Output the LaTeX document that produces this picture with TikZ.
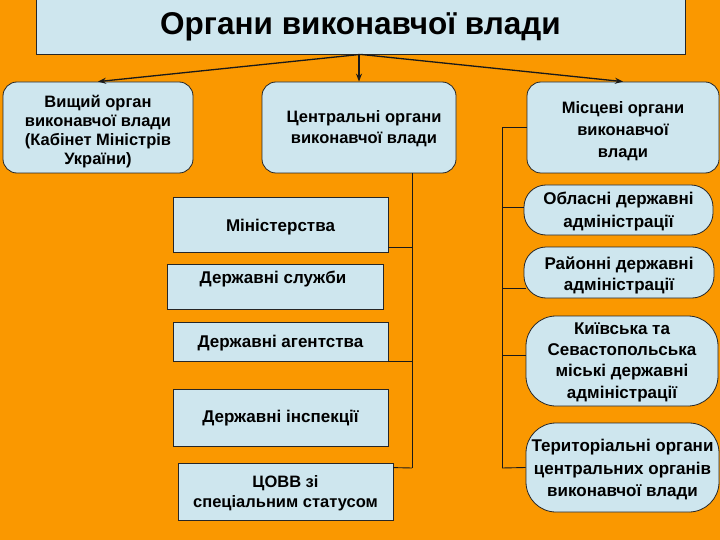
\documentclass[tikz,border=0pt]{standalone}
\usepackage{fontspec}
\setmainfont{Liberation Sans}
\usetikzlibrary{arrows.meta}
\definecolor{bgor}{RGB}{250,152,0}
\definecolor{boxbl}{RGB}{206,230,238}
\begin{document}
\begin{tikzpicture}[x=1pt,y=-1pt,
  sqbox/.style={draw=black!85, fill=boxbl, line width=0.8pt, inner sep=0pt},
  rbox/.style={sqbox, rounded corners=14pt},
  obox/.style={sqbox, rounded corners=22pt},
  txt/.style={font=\bfseries\fontsize{17}{20}\selectfont, align=center, inner sep=0pt, text=black},
  conn/.style={line width=0.9pt, draw=black!90},
  arr/.style={conn, line width=1.3pt, -{Stealth[length=8pt,width=6pt]}}]
\fill[bgor] (0,0) rectangle (720,540);
\useasboundingbox (0,0) rectangle (720,540);
% title
\node[sqbox, minimum width=649pt, minimum height=55pt] (title) at (360.5,26.5) {};
\node[txt, font=\bfseries\fontsize{31.5}{36}\selectfont] (titlet) at (title.center) {Органи виконавчої влади};
% top row
\node[rbox, minimum width=190pt, minimum height=91pt] (lb) at (98,127.5) {};
\node[txt, font=\bfseries\fontsize{16.5}{19}\selectfont] (lbt) at (98,132) {Вищий орган\\виконавчої влади\\(Кабінет Міністрів\\України)};
\node[rbox, minimum width=194pt, minimum height=91pt] (cb) at (359,127.5) {};
\node[txt, font=\bfseries\fontsize{16.5}{21}\selectfont] (cbt) at (364,129) {Центральні органи\\виконавчої влади};
\node[rbox, minimum width=192pt, minimum height=91pt] (rb) at (623,127.5) {};
\node[txt, font=\bfseries\fontsize{16.5}{22}\selectfont] (rbt) at (623,131) {Місцеві органи\\виконавчої\\влади};
% arrows
\draw[arr] (title.south) -- (lb.north);
\draw[arr] (cb.north |- title.south) -- (cb.north);
\draw[arr] (title.south) -- (rb.north);
% left column
\node[sqbox, minimum width=215pt, minimum height=55pt] (min) at (280.5,224.5) {};
\node[txt] (mint) at (280.5,227) {Міністерства};
\node[sqbox, minimum width=216pt, minimum height=45pt] (sl) at (275,286.5) {};
\node[txt] (slt) at (273,279) {Державні служби};
\node[sqbox, minimum width=215pt, minimum height=39pt] (ag) at (280.5,341.5) {};
\node[txt] (agt) at (280.5,343) {Державні агентства};
\node[sqbox, minimum width=215pt, minimum height=57pt] (ins) at (280.5,417.5) {};
\node[txt] (inst) at (280.5,418) {Державні інспекції};
\node[sqbox, minimum width=215pt, minimum height=57pt] (cov) at (285.5,491.5) {};
\node[txt, font=\bfseries\fontsize{16.5}{20}\selectfont] (covt) at (285.5,493) {ЦОВВ зі\\спеціальним статусом};
% right column
\node[obox, minimum width=189pt, minimum height=50pt] (obl) at (618.5,210) {};
\node[txt, font=\bfseries\fontsize{17}{23}\selectfont] (oblt) at (618.5,212) {Обласні державні\\адміністрації};
\node[obox, minimum width=190pt, minimum height=51pt] (ray) at (619,272.5) {};
\node[txt, font=\bfseries\fontsize{17}{21}\selectfont] (rayt) at (619,275) {Районні державні\\адміністрації};
\node[sqbox, rounded corners=30pt, minimum width=192pt, minimum height=90pt] (kyiv) at (622,361) {};
\node[txt, font=\bfseries\fontsize{17}{21.3}\selectfont] (kyivt) at (622,362) {Київська та\\Севастопольська\\міські державні\\адміністрації};
\node[sqbox, rounded corners=30pt, minimum width=193pt, minimum height=89pt] (ter) at (622.5,467.5) {};
\node[txt, font=\bfseries\fontsize{17}{22.5}\selectfont] (tert) at (622.5,470) {Територіальні органи\\центральних органів\\виконавчої влади};
% connectors left
\coordinate (lv) at (412,468);
\draw[conn] (cb.south -| lv) -- (lv);
\draw[conn] ([yshift=5pt]min.south east) -- ([yshift=5pt]min.south east -| lv);
\draw[conn] (ag.south east) -- (ag.south east -| lv);
\draw[conn] ([yshift=-5pt]cov.north east) -- (lv);
% connectors right
\coordinate (rv) at (502,468);
\draw[conn] (rb.west) -- (rb.west -| rv) -- (rv);
\draw[conn] ([yshift=3pt]obl.west -| rv) -- ([yshift=3pt]obl.west);
\draw[conn] ([yshift=-15.5pt]ray.west -| rv) -- ([yshift=-15.5pt,xshift=2pt]ray.west);
\draw[conn] ([yshift=6pt]kyiv.west -| rv) -- ([yshift=6pt]kyiv.west);
\draw[conn] (rv) -- (ter.west);
\end{tikzpicture}
\end{document}
